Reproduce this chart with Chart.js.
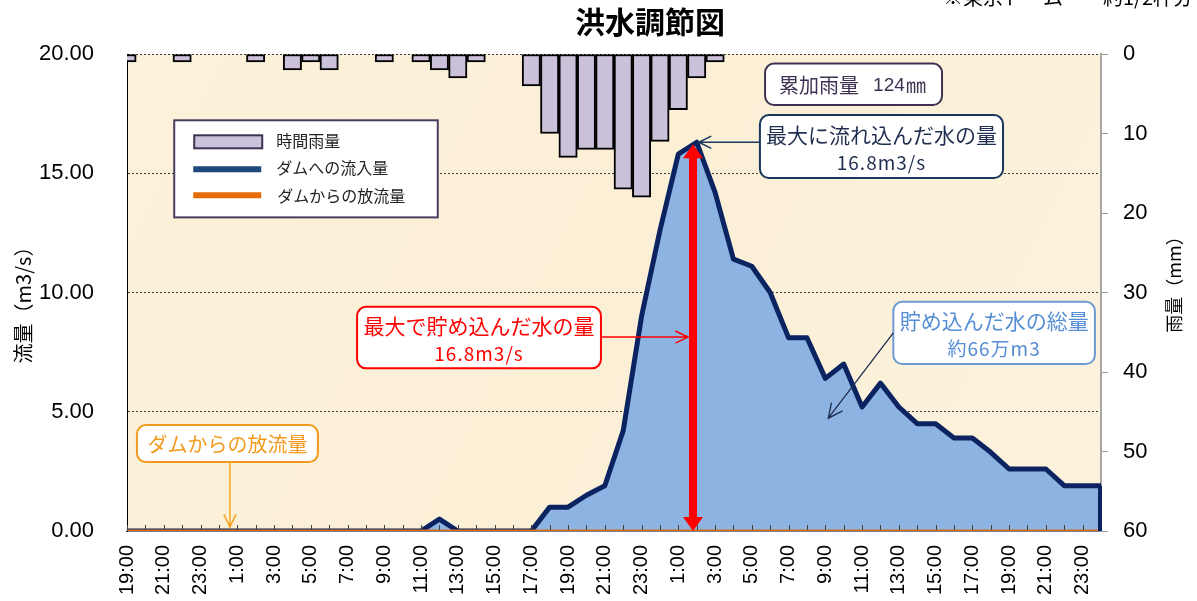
<!DOCTYPE html>
<html>
<head>
<meta charset="utf-8">
<script src="https://cdn.jsdelivr.net/npm/chart.js@4.4.1/dist/chart.umd.min.js"></script>
<style>
  html, body { margin: 0; padding: 0; background: #fff; }
  #wrap { width: 1197px; height: 601px; }
</style>
</head>
<body>
<div id="wrap"><canvas id="chart" width="1197" height="601"></canvas></div>
<script>
// hourly categories, 19:00 on day 1 to 0:00 on day 4
const hourLabels = [
  '19:00', '20:00', '21:00', '22:00', '23:00',
  '0:00', '1:00', '2:00', '3:00', '4:00', '5:00', '6:00', '7:00', '8:00', '9:00', '10:00', '11:00',
  '12:00', '13:00', '14:00', '15:00', '16:00', '17:00', '18:00', '19:00', '20:00', '21:00', '22:00', '23:00',
  '0:00', '1:00', '2:00', '3:00', '4:00', '5:00', '6:00', '7:00', '8:00', '9:00', '10:00', '11:00',
  '12:00', '13:00', '14:00', '15:00', '16:00', '17:00', '18:00', '19:00', '20:00', '21:00', '22:00', '23:00',
  '0:00'
];

// 時間雨量 (mm)
const rainfall = [
  1, null, null, 1, null, null, null, 1, null, 2, 1, 2, null, null, 1, null, 1, 2, 3, 1, null, null,
  4, 10, 13, 12, 12, 17, 18, 11, 7, 3, 1,
  null, null, null, null, null, null, null, null, null, null, null, null, null, null, null, null, null, null, null, null, null
];

// ダムへの流入量 (m3/s)
const inflow = [
  0, 0, 0, 0, 0, 0, 0, 0, 0, 0, 0, 0, 0, 0, 0, 0, 0, 0.5, 0, 0, 0, 0,
  0, 1.0, 1.0, 1.5, 1.9, 4.2, 9.0, 12.6, 15.8, 16.3, 14.2, 11.4, 11.1, 10.0, 8.1, 8.1,
  6.4, 7.0, 5.2, 6.2, 5.2, 4.5, 4.5, 3.9, 3.9, 3.3, 2.6, 2.6, 2.6, 1.9, 1.9, 1.9
];

// ダムからの放流量 (m3/s)
const outflow = [
  0, 0, 0, 0, 0, 0, 0, 0, 0, 0, 0, 0, 0, 0, 0, 0, 0, 0, 0, 0, 0, 0,
  0, 0, 0, 0, 0, 0, 0, 0, 0, 0, 0, 0, 0, 0, 0, 0,
  0, 0, 0, 0, 0, 0, 0, 0, 0, 0, 0, 0, 0, 0, 0, 0
];

const flowTicks = [0, 5, 10, 15, 20];
const rainTicks = [0, 10, 20, 30, 40, 50, 60];

const JP = '"Noto Sans CJK JP", "Noto Sans", sans-serif';
const NUM = '"Liberation Sans", Arial, sans-serif';

function boxPath(ctx, l, t, r, b, rad) {
  ctx.beginPath();
  ctx.moveTo(l + rad, t);
  ctx.arcTo(r, t, r, b, rad);
  ctx.arcTo(r, b, l, b, rad);
  ctx.arcTo(l, b, l, t, rad);
  ctx.arcTo(l, t, r, t, rad);
  ctx.closePath();
}

function openArrow(ctx, x1, y1, x2, y2, color, lw, head) {
  const a = Math.atan2(y2 - y1, x2 - x1);
  ctx.save();
  ctx.strokeStyle = color;
  ctx.lineWidth = lw;
  ctx.beginPath();
  ctx.moveTo(x1, y1);
  ctx.lineTo(x2, y2);
  ctx.moveTo(x2 - head * Math.cos(a - 0.45), y2 - head * Math.sin(a - 0.45));
  ctx.lineTo(x2, y2);
  ctx.lineTo(x2 - head * Math.cos(a + 0.45), y2 - head * Math.sin(a + 0.45));
  ctx.stroke();
  ctx.restore();
}

// note box: corners given as [category index, flow value]
function noteBox(chart, tl, br, lines, color, border) {
  const { ctx, scales: { x, y } } = chart;
  const l = x.getPixelForValue(tl[0]), t = y.getPixelForValue(tl[1]);
  const r = x.getPixelForValue(br[0]), b = y.getPixelForValue(br[1]);
  ctx.save();
  boxPath(ctx, l, t, r, b, 9);
  ctx.fillStyle = '#fff';
  ctx.fill();
  ctx.lineWidth = 2;
  ctx.strokeStyle = border;
  ctx.stroke();
  ctx.fillStyle = color;
  ctx.textAlign = 'center';
  ctx.textBaseline = 'middle';
  const cx = (l + r) / 2;
  if (lines.length === 1) {
    ctx.font = lines[0].font;
    ctx.fillText(lines[0].text, cx, (t + b) / 2 + 1);
  } else if (lines.length === 2) {
    const h = b - t;
    ctx.font = lines[0].font;
    ctx.fillText(lines[0].text, cx, t + h * 0.31);
    ctx.font = lines[1].font;
    ctx.letterSpacing = '1px';
    ctx.fillText(lines[1].text, cx, t + h * 0.76);
  }
  ctx.restore();
  return { l, t, r, b };
}

const overlay = {
  id: 'overlay',
  beforeDraw(chart) {
    const { ctx, chartArea: a } = chart;
    ctx.save();
    ctx.fillStyle = '#fff';
    ctx.fillRect(0, 0, chart.width, chart.height);
    const g = ctx.createLinearGradient(a.left, a.top, a.right, a.bottom);
    g.addColorStop(0, '#FCF1DA');
    g.addColorStop(0.5, '#FBEFD6');
    g.addColorStop(1, '#FCF2DC');
    ctx.fillStyle = g;
    ctx.fillRect(a.left, a.top, a.right - a.left, a.bottom - a.top);
    ctx.restore();
  },
  afterDatasetsDraw(chart) {
    const { ctx, chartArea: a, scales: { x, y } } = chart;
    ctx.save();

    // hourly tick marks inside the plot
    ctx.strokeStyle = '#444';
    ctx.lineWidth = 1;
    ctx.beginPath();
    for (let i = 0; i < hourLabels.length; i++) {
      const px = Math.round(x.getPixelForValue(i)) + 0.5;
      ctx.moveTo(px, a.bottom - 6);
      ctx.lineTo(px, a.bottom - 1);
    }
    ctx.stroke();

    // closing edge of the inflow area at the last hour
    const last = inflow.length - 1;
    ctx.strokeStyle = '#0B2461';
    ctx.lineWidth = 4;
    ctx.beginPath();
    ctx.moveTo(x.getPixelForValue(last) - 1, y.getPixelForValue(inflow[last]));
    ctx.lineTo(x.getPixelForValue(last) - 1, y.getPixelForValue(0));
    ctx.stroke();

    // red double arrow: peak storage
    const peakIdx = inflow.indexOf(Math.max(...inflow));
    const rx = x.getPixelForValue(peakIdx - 0.2);
    const rTop = y.getPixelForValue(inflow[peakIdx]) + 2;
    const rBot = y.getPixelForValue(0);
    ctx.fillStyle = '#FF0000';
    ctx.fillRect(rx - 4, rTop + 12, 8, rBot - rTop - 24);
    ctx.beginPath();
    ctx.moveTo(rx, rTop);
    ctx.lineTo(rx + 10, rTop + 14);
    ctx.lineTo(rx - 10, rTop + 14);
    ctx.closePath();
    ctx.moveTo(rx, rBot);
    ctx.lineTo(rx + 10, rBot - 14);
    ctx.lineTo(rx - 10, rBot - 14);
    ctx.closePath();
    ctx.fill();

    // 累加雨量
    const b0 = noteBox(chart, [34.72, 19.6], [44.35, 17.86], [], '#3F3151', '#3F3151');
    ctx.fillStyle = '#3F3151';
    ctx.textBaseline = 'middle';
    ctx.textAlign = 'left';
    const cy0 = (b0.t + b0.b) / 2 + 1;
    ctx.font = '20px ' + JP;
    ctx.fillText('累加雨量', b0.l + 14, cy0);
    ctx.font = '19px ' + NUM;
    ctx.fillText('124', b0.l + 108, cy0);
    ctx.font = '20px ' + JP;
    ctx.fillText('㎜', b0.l + 141, cy0);

    // 最大に流れ込んだ水の量
    const b1 = noteBox(chart, [34.44, 17.44], [47.67, 14.8],
      [{ text: '最大に流れ込んだ水の量', font: '21px ' + JP },
       { text: '16.8m3/s', font: '19px ' + JP }], '#1F2D4F', '#17375E');
    openArrow(ctx, b1.l, y.getPixelForValue(inflow[peakIdx]), x.getPixelForValue(peakIdx) + 2,
      y.getPixelForValue(inflow[peakIdx]), '#17375E', 1.5, 14);

    // 最大で貯め込んだ水の量
    const b2 = noteBox(chart, [12.52, 9.4], [25.79, 6.82],
      [{ text: '最大で貯め込んだ水の量', font: '21px ' + JP },
       { text: '16.8m3/s', font: '19px ' + JP }], '#FF0000', '#FF0000');
    openArrow(ctx, b2.r, y.getPixelForValue(8.13), rx - 5, y.getPixelForValue(8.13), '#FF0000', 1.5, 14);

    // 貯め込んだ水の総量
    const b3 = noteBox(chart, [41.7, 9.61], [52.67, 7.0],
      [{ text: '貯め込んだ水の総量', font: '21px ' + JP },
       { text: '約66万m3', font: '19px ' + JP }], '#558ED5', '#6C9BD2');
    openArrow(ctx, b3.l, y.getPixelForValue(8.31), x.getPixelForValue(38.16), y.getPixelForValue(4.73),
      '#1F2D4F', 1.3, 16);

    // ダムからの放流量
    const b4 = noteBox(chart, [0.54, 4.44], [10.39, 2.89],
      [{ text: 'ダムからの放流量', font: '20px ' + JP }], '#F39A1E', '#F39A1E');
    const ox = x.getPixelForValue(5.6);
    openArrow(ctx, ox, b4.b, ox, y.getPixelForValue(0.17), '#F5A623', 1.5, 14);

    // legend
    const L = x.getPixelForValue(2.57), T = y.getPixelForValue(17.22);
    const R = x.getPixelForValue(16.91), B = y.getPixelForValue(13.15);
    ctx.fillStyle = '#fff';
    ctx.fillRect(L, T, R - L, B - T);
    ctx.strokeStyle = '#4B3D61';
    ctx.lineWidth = 2;
    ctx.strokeRect(L, T, R - L, B - T);
    ctx.fillStyle = '#CCC1DA';
    ctx.fillRect(L + 20, T + 15, 68, 13);
    ctx.strokeStyle = '#3F3151';
    ctx.strokeRect(L + 20, T + 15, 68, 13);
    ctx.lineWidth = 6;
    ctx.strokeStyle = '#1F497D';
    ctx.beginPath();
    ctx.moveTo(L + 19, T + 49);
    ctx.lineTo(L + 87, T + 49);
    ctx.stroke();
    ctx.strokeStyle = '#E46C0A';
    ctx.beginPath();
    ctx.moveTo(L + 19, T + 75);
    ctx.lineTo(L + 87, T + 75);
    ctx.stroke();
    ctx.fillStyle = '#222';
    ctx.font = '16px ' + JP;
    ctx.textAlign = 'left';
    ctx.textBaseline = 'middle';
    ctx.fillText('時間雨量', L + 102, T + 21);
    ctx.fillText('ダムへの流入量', L + 102, T + 48);
    ctx.fillText('ダムからの放流量', L + 103, T + 76);
    ctx.restore();
  },
  afterDraw(chart) {
    const { ctx, chartArea: a } = chart;
    ctx.save();
    ctx.fillStyle = '#000';
    ctx.textAlign = 'center';
    ctx.textBaseline = 'middle';
    ctx.font = 'bold 30px ' + JP;
    ctx.fillText('洪水調節図', 650, 22);

    ctx.font = '20px ' + JP;
    ctx.textAlign = 'left';
    ctx.textBaseline = 'alphabetic';
    ctx.fillText('※東京ドーム　　約1/2杯分', 943, 5);

    ctx.textAlign = 'center';
    ctx.textBaseline = 'middle';
    ctx.font = '20px ' + JP;
    ctx.translate(23, 300);
    ctx.rotate(-Math.PI / 2);
    ctx.fillText('流量（m3/s）', 0, 0);
    ctx.restore();

    ctx.save();
    ctx.fillStyle = '#000';
    ctx.textAlign = 'center';
    ctx.textBaseline = 'middle';
    ctx.font = '18px ' + JP;
    ctx.translate(a.right + 73, 280);
    ctx.rotate(-Math.PI / 2);
    ctx.fillText('雨量（mm）', 0, 0);
    ctx.restore();
  }
};

new Chart(document.getElementById('chart'), {
  type: 'bar',
  data: {
    labels: hourLabels,
    datasets: [
      {
        type: 'line',
        label: 'ダムからの放流量',
        data: outflow,
        yAxisID: 'y',
        borderColor: '#E46C0A',
        borderWidth: 3,
        pointRadius: 0,
        tension: 0,
        clip: 0,
        order: 0
      },
      {
        type: 'line',
        label: 'ダムへの流入量',
        data: inflow,
        yAxisID: 'y',
        borderColor: '#0B2461',
        backgroundColor: '#8DB3E2',
        borderWidth: 5,
        borderJoinStyle: 'round',
        fill: 'origin',
        pointRadius: 0,
        tension: 0,
        clip: 0,
        order: 1
      },
      {
        type: 'bar',
        label: '時間雨量',
        data: rainfall,
        yAxisID: 'yRain',
        backgroundColor: '#CCC1DA',
        borderColor: '#000',
        borderWidth: 2,
        borderSkipped: false,
        barPercentage: 1,
        categoryPercentage: 1,
        clip: 0,
        order: 2
      }
    ]
  },
  options: {
    responsive: false,
    devicePixelRatio: 1,
    animation: false,
    layout: { padding: { top: 54, left: 0, right: 0, bottom: 0 } },
    plugins: {
      legend: { display: false },
      title: { display: false },
      tooltip: { enabled: false }
    },
    scales: {
      x: {
        type: 'category',
        offset: false,
        grid: { offset: false, drawOnChartArea: false, drawTicks: false },
        border: { color: '#6F8096', width: 2 },
        ticks: {
          autoSkip: false,
          maxRotation: 90,
          minRotation: 90,
          padding: 14,
          color: '#000',
          font: { family: NUM, size: 20 },
          callback: (v, i) => (i % 2 === 0 ? hourLabels[i] : '')
        },
        afterFit: (s) => { s.height = 70; }
      },
      y: {
        position: 'left',
        min: 0,
        max: 20,
        afterBuildTicks: (s) => { s.ticks = flowTicks.map(v => ({ value: v })); },
        grid: { color: '#3A3A3A', lineWidth: 1, drawTicks: false },
        border: { color: '#000', width: 1, dash: [2, 2] },
        ticks: {
          padding: 33,
          color: '#000',
          font: { family: NUM, size: 22 },
          callback: (v) => Number(v).toFixed(2)
        },
        afterFit: (s) => { s.width = 127; }
      },
      yRain: {
        position: 'right',
        reverse: true,
        min: 0,
        max: 60,
        afterBuildTicks: (s) => { s.ticks = rainTicks.map(v => ({ value: v })); },
        grid: { drawOnChartArea: false, drawTicks: true, tickLength: 7, color: '#999', tickColor: '#999' },
        border: { color: '#A6A6A6', width: 2 },
        ticks: {
          padding: 15,
          color: '#000',
          font: { family: NUM, size: 22 }
        },
        afterFit: (s) => { s.width = 96; }
      }
    }
  },
  plugins: [overlay]
});
</script>
</body>
</html>
